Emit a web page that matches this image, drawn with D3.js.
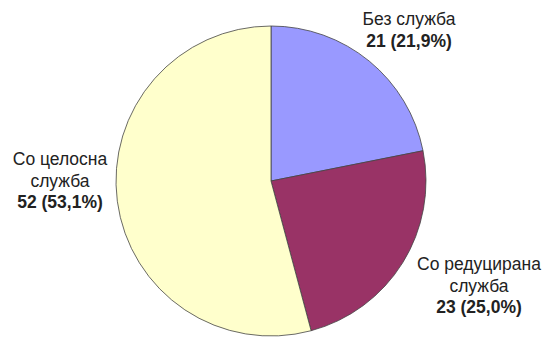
<!DOCTYPE html>
<html>
<head>
<meta charset="utf-8">
<script src="https://cdn.jsdelivr.net/npm/d3@7"></script>
<style>
  body { margin: 0; background: #fff; }
  text { font-family: "Liberation Sans", Arial, sans-serif; fill: #222; }
</style>
</head>
<body>
<div id="chart"></div>
<script>
var categories = ["Без служба", "Со редуцирана служба", "Со целосна служба"];
var values = [21, 23, 52];
var percents = ["21,9%", "25,0%", "53,1%"];
var colors = ["#9999ff", "#993366", "#ffffcc"];

// label lines per slice (name split into lines)
var labelLines = [["Без служба"], ["Со редуцирана", "служба"], ["Со целосна", "служба"]];
var labelPos = [{x: 409, y: 25}, {x: 479, y: 270}, {x: 60, y: 165}];

var width = 546, height = 338;
var cx = 271, cy = 181, r = 155;

var svg = d3.select("#chart").append("svg")
    .attr("width", width)
    .attr("height", height);

var pie = d3.pie().sort(null).value(function (d) { return d; });
var arc = d3.arc().innerRadius(0).outerRadius(r);

var g = svg.append("g").attr("transform", "translate(" + cx + "," + cy + ")");

g.selectAll("path")
    .data(pie(values))
    .enter()
    .append("path")
    .attr("d", arc)
    .attr("fill", function (d, i) { return colors[i]; })
    .attr("stroke", "#444")
    .attr("stroke-width", 0.8);

//labels
var lineH = 21.5;
labelLines.forEach(function (lines, i) {
    var t = svg.append("text")
        .attr("text-anchor", "middle")
        .style("font-size", "17.5px");
    lines.forEach(function (l, j) {
        t.append("tspan")
            .attr("x", labelPos[i].x)
            .attr("y", labelPos[i].y + j * lineH)
            .text(l);
    });
    t.append("tspan")
        .attr("x", labelPos[i].x)
        .attr("y", labelPos[i].y + lines.length * lineH)
        .style("font-weight", "bold")
        .text(values[i] + " (" + percents[i] + ")");
});
</script>
</body>
</html>
